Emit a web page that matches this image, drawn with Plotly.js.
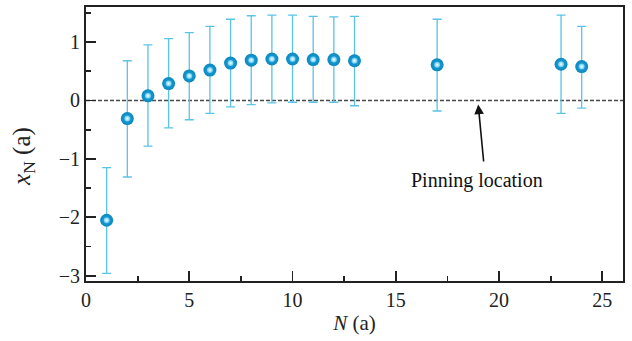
<!DOCTYPE html>
<html><head><meta charset="utf-8">
<script src="https://cdn.plot.ly/plotly-3.0.1.min.js"></script>
<style>html,body{margin:0;padding:0;background:#fff}#c{width:632px;height:341px}</style>
</head><body><div id="c"></div>
<script>
const N = [1,2,3,4,5,6,7,8,9,10,11,12,13,17,23,24];
const xN = [-2.05,-0.31,0.08,0.29,0.42,0.52,0.64,0.69,0.71,0.71,0.70,0.70,0.68,0.61,0.62,0.58];
const errUp = [0.90,0.99,0.87,0.77,0.74,0.75,0.75,0.76,0.75,0.75,0.74,0.73,0.76,0.78,0.84,0.69];
const errDown = [0.91,1.00,0.86,0.76,0.75,0.74,0.75,0.76,0.75,0.74,0.73,0.73,0.77,0.79,0.84,0.71];
const xTicks = [0,5,10,15,20,25];
const yTicks = [-3,-2,-1,0,1];
const yTickText = ['\u22123','\u22122','\u22121','0','1'];

const font = 'Liberation Serif, Times New Roman, serif';
const trace = {
  x: N, y: xN, mode: 'markers', type: 'scatter',
  marker: {size: 13, color: '#0b88c0', gradient: {type: 'radial', color: '#1ea6dc'}, line: {width: 0}},
  error_y: {type: 'data', symmetric: false, array: errUp, arrayminus: errDown,
            color: '#5bc3e6', thickness: 1.3, width: 4.5},
  hoverinfo: 'skip'
};
const glow = {
  x: N, y: xN, mode: 'markers', type: 'scatter',
  marker: {size: 6, color: '#5cc6ee', gradient: {type: 'radial', color: '#ffffff'}, line: {width: 0}},
  hoverinfo: 'skip'
};
const layout = {
  width: 632, height: 341,
  margin: {l: 86, r: 9, t: 7, b: 60},
  paper_bgcolor: '#fff', plot_bgcolor: '#fff',
  showlegend: false,
  font: {family: font, color: '#222', size: 20},
  xaxis: {range: [0, 26], tickvals: xTicks, ticktext: xTicks.map(String),
          ticks: 'inside', ticklen: 10, tickwidth: 1.8, tickcolor: '#222',
          minor: {ticks: 'inside', dtick: 2.5, tick0: 0, ticklen: 5, tickwidth: 1.8, tickcolor: '#222', showgrid: false},
          showline: true, linecolor: '#222', linewidth: 2, mirror: true,
          showgrid: false, zeroline: false,
          tickfont: {family: font, size: 20, color: '#222'},
          title: {text: '<i>N</i> (a)', font: {family: font, size: 21, color: '#222'}, standoff: 5}},
  yaxis: {range: [-3.09, 1.6], tickvals: yTicks, ticktext: yTickText,
          ticks: 'inside', ticklen: 10, tickwidth: 1.8, tickcolor: '#222',
          minor: {ticks: 'inside', dtick: 0.5, tick0: 0, ticklen: 5, tickwidth: 1.8, tickcolor: '#222', showgrid: false},
          showline: true, linecolor: '#222', linewidth: 2, mirror: true,
          showgrid: false, zeroline: false,
          tickfont: {family: font, size: 20, color: '#222'}},
  shapes: [{type: 'line', xref: 'paper', x0: 0, x1: 1, yref: 'y', y0: 0, y1: 0,
            line: {color: '#4a4a4a', width: 1.6, dash: '4px,2px'}, layer: 'below'}],
  annotations: [
    {xref: 'x', yref: 'y', x: 18.99, y: -0.07, axref: 'x', ayref: 'y', ax: 19.26, ay: -1.07,
     showarrow: true, arrowhead: 2, arrowsize: 1.2, arrowwidth: 1.6, arrowcolor: '#111', text: ''},
    {xref: 'x', yref: 'y', x: 18.95, y: -1.37, text: 'Pinning location', showarrow: false,
     font: {family: font, size: 20, color: '#111'}, xanchor: 'center', yanchor: 'middle'},
    {xref: 'paper', yref: 'paper', x: 0, y: 0.453, xshift: -62, textangle: -90,
     text: '<i>x</i><sub>N</sub> (a)', showarrow: false,
     font: {family: font, size: 25, color: '#222'}, xanchor: 'center', yanchor: 'middle'}
  ]
};
Plotly.newPlot('c', [trace, glow], layout, {staticPlot: true, displayModeBar: false});
</script></body></html>
